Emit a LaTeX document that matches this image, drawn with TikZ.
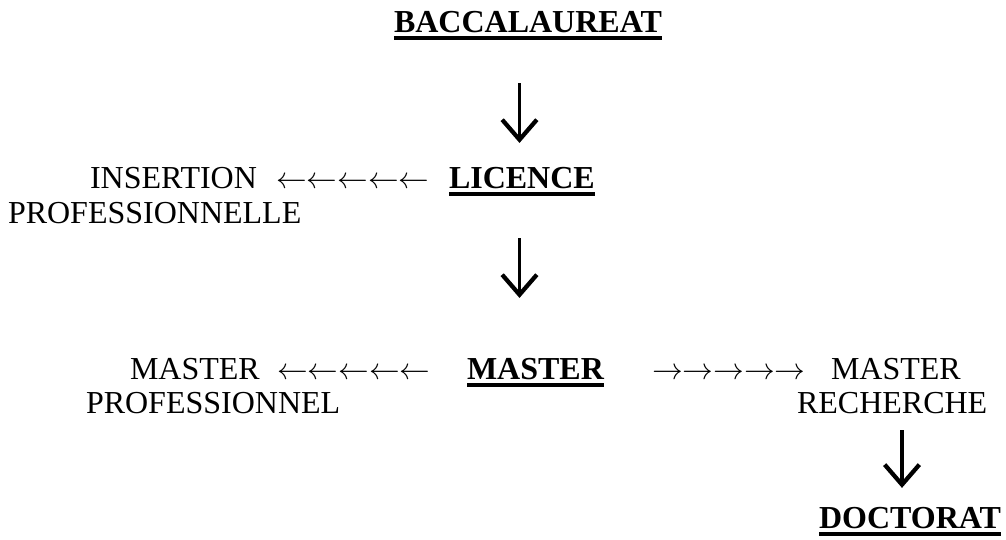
\documentclass[tikz,border=0pt]{standalone}
\usepackage{fontspec}
\setmainfont{Liberation Serif}
\newfontfamily\arw{latinmodern-math.otf}
\usetikzlibrary{arrows.meta}
\tikzset{
  lbl/.style={anchor=base west, inner sep=0pt, outer sep=0pt, font=\fontsize{24}{28}\selectfont},
  hd/.style={lbl, font=\fontsize{24}{28}\selectfont\bfseries},
  arrs/.style={lbl, font=\fontsize{23}{28}\selectfont\arw},
  ul/.style={line width=2.8pt},
  darrow/.style={line width=2.8pt, -{Straight Barb[length=15pt, width=26pt, line width=3.2pt]}},
}
\begin{document}
\begin{tikzpicture}[x=0.75pt, y=-0.75pt]
\useasboundingbox (0,0) rectangle (1006,539);
% headings
\node[hd] (bac) at (394,32.5) {BACCALAUREAT};
\node[hd] (lic) at (449,188) {LICENCE};
\node[hd] (mas) at (467,379) {MASTER};
\node[hd] (doc) at (819,528) {DOCTORAT};
\foreach \n in {bac,lic,mas,doc}
  \draw[ul] ([yshift=-4.3pt]\n.base west) -- ([yshift=-4.3pt]\n.base east);
% side labels
\node[lbl] (ins) at (90,188) {INSERTION};
\node[lbl] (pro1) at (8,223) {PROFESSIONNELLE};
\node[arrs] (al1) at (276,188) {←←←←←};
\node[lbl] (mpl) at (130,379) {MASTER};
\node[lbl] (pro2) at (86,413) {PROFESSIONNEL};
\node[arrs] (al2) at (277,379) {←←←←←};
\node[arrs] (ar) at (652,379) {→→→→→};
\node[lbl] (mr) at (831,379) {MASTER};
\node[lbl] (rech) at (797,413) {RECHERCHE};
% x positions of the vertical arrows
\coordinate (x1) at (519.5,0);
\coordinate (x3) at (902,0);
\draw[darrow, shorten <=37.9pt, shorten >=17.9pt] (bac.south -| x1) -- (lic.north -| x1);
\draw[darrow, shorten <=37.5pt, shorten >=44.9pt] (lic.south -| x1) -- (mas.north -| x1);
\draw[darrow, shorten <=12.7pt, shorten >=14.2pt] (rech.south -| x3) -- (doc.north -| x3);
\end{tikzpicture}
\end{document}
